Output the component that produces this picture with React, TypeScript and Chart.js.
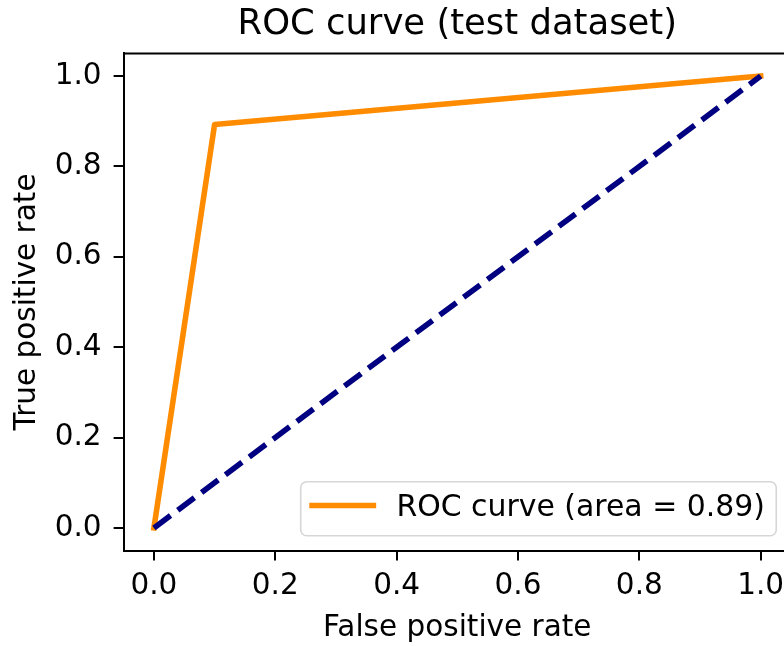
import React, { useEffect, useRef } from "react";
import { Chart, registerables } from "chart.js";

Chart.register(...registerables);

// ---- data ----
const fpr = [0, 0.1, 1];
const tpr = [0, 0.893, 1];
const chanceFpr = [0, 1];
const chanceTpr = [0, 1];
const xTickValues = [0, 0.2, 0.4, 0.6, 0.8, 1.0];
const yTickValues = [0, 0.2, 0.4, 0.6, 0.8, 1.0];
const rocAuc = 0.89;
const titleText = "ROC curve (test dataset)";
const xLabel = "False positive rate";
const yLabel = "True positive rate";
const legendLabel = `ROC curve (area = ${rocAuc.toFixed(2)})`;

const FONT = "'DejaVu Sans', sans-serif";
const FS = 29.5;
const LEG_FS = 29.9;
const TITLE_FS = 35.4;
const LW = 5.6;

const framePlugin = {
  id: "frameAndLegend",
  afterDatasetsDraw(chart: any) {
    const { ctx, chartArea: a } = chart;
    ctx.save();
    // top & right spines
    ctx.strokeStyle = "#000";
    ctx.lineWidth = 2;
    ctx.lineCap = "butt";
    ctx.beginPath();
    ctx.moveTo(a.left, a.top);
    ctx.lineTo(a.right, a.top);
    ctx.lineTo(a.right, a.bottom);
    ctx.stroke();

    // legend (lower right)
    ctx.font = `${LEG_FS}px ${FONT}`;
    const pad = 0.38 * LEG_FS;
    const handle = 2.05 * LEG_FS;
    const tp = 0.77 * LEG_FS;
    const axpad = 0.5 * FS;
    const tw = ctx.measureText(legendLabel).width;
    const w = pad + handle + tp + tw + pad;
    const h = 54;
    const right = a.right - axpad;
    const bottom = a.bottom - axpad;
    const left = right - w;
    const top = bottom - h;
    ctx.beginPath();
    ctx.roundRect(left, top, w, h, 6);
    ctx.fillStyle = "rgba(255,255,255,0.8)";
    ctx.fill();
    ctx.strokeStyle = "rgba(204,204,204,0.8)";
    ctx.lineWidth = 1.6;
    ctx.stroke();
    const lineY = top + h * 0.44;
    ctx.beginPath();
    ctx.strokeStyle = "#ff8c00";
    ctx.lineWidth = LW;
    ctx.lineCap = "square";
    ctx.moveTo(left + pad, lineY);
    ctx.lineTo(left + pad + handle, lineY);
    ctx.stroke();
    ctx.fillStyle = "#000";
    ctx.textBaseline = "alphabetic";
    ctx.textAlign = "left";
    ctx.fillText(legendLabel, left + pad + handle + tp, lineY + (0.729 * LEG_FS) / 2);
    ctx.restore();
  },
};

export default function App() {
  const ref = useRef<HTMLCanvasElement | null>(null);

  useEffect(() => {
    if (!ref.current) return;
    const tickFont = { family: FONT, size: FS, lineHeight: 1.2 };
    const chart = new Chart(ref.current, {
      type: "scatter",
      data: {
        datasets: [
          {
            label: "chance",
            data: chanceFpr.map((x, i) => ({ x, y: chanceTpr[i] })),
            borderColor: "#000080",
            backgroundColor: "#000080",
            borderWidth: LW,
            borderDash: [20.7, 9],
            borderCapStyle: "butt",
            showLine: true,
            pointRadius: 0,
            fill: false,
          } as any,
          {
            label: legendLabel,
            data: fpr.map((x, i) => ({ x, y: tpr[i] })),
            borderColor: "#ff8c00",
            backgroundColor: "#ff8c00",
            borderWidth: LW,
            borderCapStyle: "square",
            borderJoinStyle: "round",
            showLine: true,
            pointRadius: 0,
            fill: false,
          } as any,
        ],
      },
      options: {
        animation: false,
        responsive: false,
        devicePixelRatio: 1,
        layout: { padding: { left: 0, top: 0, right: 9, bottom: 0 } },
        events: [],
        plugins: {
          legend: { display: false },
          tooltip: { enabled: false },
          title: {
            display: true,
            text: titleText,
            fullSize: false,
            color: "#000",
            font: { family: FONT, size: TITLE_FS, weight: "normal", lineHeight: 1.2 },
            padding: { top: 3.7, bottom: 7.3 },
          },
        },
        scales: {
          x: {
            type: "linear",
            min: -0.05,
            max: 1.05,
            afterBuildTicks: (s: any) => {
              s.ticks = xTickValues.map((v) => ({ value: v }));
            },
            afterFit: (s: any) => {
              s.height = 95.5;
            },
            grid: {
              drawOnChartArea: false,
              drawTicks: true,
              tickLength: 10,
              tickWidth: 2,
              tickColor: "#000",
              color: "#000",
              lineWidth: 2,
            },
            border: { display: true, color: "#000", width: 2 },
            ticks: {
              color: "#000",
              font: tickFont,
              padding: 8,
              autoSkip: false,
              maxRotation: 0,
              callback: (v: any) => Number(v).toFixed(1),
            },
            title: {
              display: true,
              text: xLabel,
              color: "#000",
              font: tickFont,
              padding: { top: 0, bottom: 0 },
            },
          },
          y: {
            type: "linear",
            min: -0.05,
            max: 1.05,
            afterBuildTicks: (s: any) => {
              s.ticks = yTickValues.map((v) => ({ value: v }));
            },
            afterFit: (s: any) => {
              s.width = 123.6;
            },
            grid: {
              drawOnChartArea: false,
              drawTicks: true,
              tickLength: 10,
              tickWidth: 2,
              tickColor: "#000",
              color: "#000",
              lineWidth: 2,
            },
            border: { display: true, color: "#000", width: 2 },
            ticks: {
              color: "#000",
              font: tickFont,
              padding: 12,
              autoSkip: false,
              callback: (v: any) => Number(v).toFixed(1),
            },
            title: {
              display: true,
              text: yLabel,
              color: "#000",
              font: tickFont,
              padding: { top: 10, bottom: 0 },
            },
          },
        },
      } as any,
      plugins: [framePlugin],
    });
    return () => chart.destroy();
  }, []);

  return (
    <div
      style={{
        position: "fixed",
        left: 0,
        top: 0,
        width: 784,
        height: 646,
        overflow: "hidden",
        background: "#fff",
      }}
    >
      <canvas ref={ref} width={800} height={646} style={{ display: "block" }} />
    </div>
  );
}
